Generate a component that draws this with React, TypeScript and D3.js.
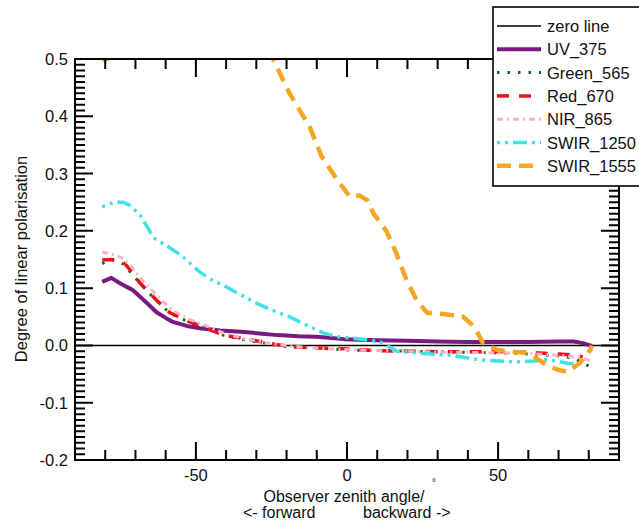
import React from 'react';
import * as d3 from 'd3';

// observer zenith angle (deg), degree of linear polarisation
const uv375: [number, number][] = [
  [-81, 0.111], [-78, 0.118], [-75, 0.108], [-71, 0.097], [-67, 0.078], [-63, 0.058],
  [-60, 0.048], [-57.6, 0.041], [-53, 0.034], [-48.7, 0.03], [-42, 0.026], [-35, 0.024],
  [-29, 0.021], [-23, 0.018], [-16, 0.016], [-10, 0.015], [-1, 0.011], [10, 0.009],
  [20, 0.008], [30, 0.007], [40, 0.006], [50, 0.006], [60, 0.006], [70, 0.007],
  [75, 0.007], [78, 0.004], [80.5, 0.0], [81, -0.002],
];
const green565: [number, number][] = [
  [-81, 0.143], [-78, 0.15], [-74, 0.142], [-71, 0.124], [-68, 0.105], [-63, 0.078],
  [-58.6, 0.056], [-52, 0.04], [-46, 0.029], [-41, 0.018], [-36, 0.012], [-32, 0.008],
  [-27, 0.004], [-23, 0.0], [-18, -0.003], [-13, -0.004], [-6, -0.006], [0, -0.008],
  [10, -0.009], [20, -0.01], [30, -0.011], [40, -0.012], [50, -0.013], [60, -0.015],
  [70, -0.018], [75, -0.022], [80, -0.036],
];
const red670: [number, number][] = [
  [-81, 0.149], [-78, 0.15], [-74, 0.146], [-71, 0.127], [-68.5, 0.109], [-63, 0.079],
  [-58.6, 0.057], [-52, 0.041], [-46.4, 0.03], [-41, 0.018], [-32, 0.01], [-23, 0.001],
  [-13, -0.004], [-1, -0.006], [10, -0.009], [20, -0.01], [30, -0.011], [40, -0.011],
  [50, -0.011], [60, -0.012], [70, -0.015], [75, -0.017], [78, -0.02],
];
const nir865: [number, number][] = [
  [-81, 0.163], [-78, 0.16], [-74, 0.152], [-71, 0.135], [-68, 0.115], [-63, 0.088],
  [-58, 0.062], [-52, 0.045], [-46, 0.033], [-41, 0.022], [-35, 0.013], [-28, 0.006],
  [-22, 0.001], [-13, -0.004], [-1, -0.007], [10, -0.009], [20, -0.01], [30, -0.012],
  [40, -0.012], [50, -0.013], [60, -0.014], [70, -0.017], [78, -0.022], [81, -0.028],
];
const swir1250: [number, number][] = [
  [-81, 0.242], [-77, 0.25], [-74, 0.25], [-72, 0.245], [-68.5, 0.228], [-64, 0.188],
  [-60, 0.175], [-55, 0.158], [-52, 0.144], [-48.7, 0.128], [-44, 0.112], [-41, 0.105],
  [-35, 0.088], [-30, 0.074], [-25, 0.062], [-19, 0.05], [-14, 0.037], [-8, 0.022],
  [-3, 0.015], [1, 0.013], [6, 0.01], [11, 0.006], [16.5, -0.01], [25, -0.014],
  [34, -0.017], [40, -0.022], [44, -0.025], [50, -0.027], [56, -0.029], [62, -0.027],
  [66, -0.025], [70, -0.028], [73, -0.031], [75, -0.032],
];
const swir1555: [number, number][] = [
  [-81, 0.52], [-80, 0.49], [-78.5, 0.51], [-76, 0.56], [-65, 0.68], [-45, 0.72],
  [-30, 0.58], [-24.5, 0.5], [-19, 0.44], [-12.3, 0.381], [-8.4, 0.33], [-3.4, 0.29],
  [1, 0.259], [4, 0.262], [6.6, 0.254], [8.7, 0.231], [13, 0.2], [16.3, 0.161],
  [19.7, 0.114], [23, 0.079], [26.5, 0.057], [32, 0.055], [38.4, 0.05], [41, 0.038],
  [43, 0.024], [45, 0.004], [49.7, -0.008], [55, -0.011], [59.6, -0.013], [62, -0.02],
  [66, -0.034], [70, -0.043], [73, -0.046], [77, -0.031], [80.5, -0.008], [81, 0.0],
];

const seriesNames = ['UV_375', 'Green_565', 'Red_670', 'NIR_865', 'SWIR_1250', 'SWIR_1555'];
const xMajorTicks = [-50, 0, 50];
const xMinorTicks = [-80, -70, -60, -40, -30, -20, -10, 10, 20, 30, 40, 60, 70, 80];
const yMajorTicks = [-0.2, -0.1, 0.0, 0.1, 0.2, 0.3, 0.4, 0.5];

const FONT = "'Liberation Sans', Arial, Helvetica, sans-serif";

const left = 75, right = 619, top = 59, bottom = 460;
const x = d3.scaleLinear().domain([-90, 90]).range([left, right]);
const y = d3.scaleLinear().domain([-0.2, 0.5]).range([bottom, top]);
const yMinorTicks = y.ticks(70);

const series = [
  { data: uv375, color: '#7a197f', width: 4, dash: undefined },
  { data: green565, color: '#14691e', width: 3, dash: '2.5,8' },
  { data: red670, color: '#e8121c', width: 3.5, dash: '12,10' },
  { data: nir865, color: '#ffb3c4', width: 3, dash: '6,4,2,4' },
  { data: swir1250, color: '#3ee3e6', width: 3.5, dash: '3,5,3,5,14,5' },
  { data: swir1555, color: '#f5a623', width: 4.5, dash: '14,8' },
];

const line = d3.line<[number, number]>().x(d => x(d[0])).y(d => y(d[1]));

const txt = { fontFamily: FONT, fontSize: 16.5, fill: '#111' };

// tick marks, pointing inward, as paths built from the scales
const xTickPath = (vals: number[], len: number) =>
  vals.map(v => `M${x(v)},${bottom}v${-len}M${x(v)},${top}v${len}`).join('');
const yTickPath = (vals: number[], len: number) =>
  vals.map(v => `M${left},${y(v)}h${len}M${right},${y(v)}h${-len}`).join('');

const App = () => {
  const legendRows = [
    { name: 'zero line', color: '#000', width: 1.5, dash: undefined as string | undefined },
    ...series.map((s, i) => ({ name: seriesNames[i], color: s.color, width: s.width, dash: s.dash })),
  ];

  return (
    <svg width={639} height={523} style={{ position: 'absolute', left: 0, top: 0, background: '#fff' }}>
      <defs>
        <clipPath id="plotclip">
          <rect x={left} y={top} width={right - left} height={bottom - top} />
        </clipPath>
      </defs>

      <g clipPath="url(#plotclip)">
        <line x1={x(-90)} x2={x(90)} y1={y(0)} y2={y(0)} stroke="#000" strokeWidth={1.5} />
        {series.map((s, i) => (
          <path key={i} d={line(s.data) ?? ''} fill="none" stroke={s.color}
            strokeWidth={s.width} strokeDasharray={s.dash} strokeLinejoin="round" />
        ))}
      </g>

      <path d={xTickPath(xMinorTicks, 10) + xTickPath(xMajorTicks, 18)}
        fill="none" stroke="#000" strokeWidth={2} />
      <path d={yTickPath(yMinorTicks, 10) + yTickPath(yMajorTicks, 18)}
        fill="none" stroke="#000" strokeWidth={2} />

      <rect x={left} y={top} width={right - left} height={bottom - top} fill="none" stroke="#000" strokeWidth={2} />

      {yMajorTicks.map(v => (
        <text key={'yl' + v} x={68} y={y(v) + 6} textAnchor="end" {...txt}>{v.toFixed(1)}</text>
      ))}
      {xMajorTicks.map(v => (
        <text key={'xl' + v} x={x(v)} y={481} textAnchor="middle" {...txt}>{String(v)}</text>
      ))}

      <text transform="translate(27,259) rotate(-90)" textAnchor="middle" {...txt}>
        Degree of linear polarisation
      </text>
      <text x={344} y={502} textAnchor="middle" {...txt} fontSize={16}>Observer zenith angle/</text>
      <text x={432} y={486} {...txt} fontSize={10}>°</text>
      <text x={243} y={518} {...txt} fontSize={16}>{'<- forward'}</text>
      <text x={363} y={518} {...txt} fontSize={16}>{'backward ->'}</text>

      <g>
        <rect x={493} y={7} width={160} height={179} fill="#fff" stroke="#000" strokeWidth={1.6} />
        {legendRows.map((e, i) => {
          const ly = 26 + i * 23.3;
          return (
            <g key={e.name}>
              <line x1={497} x2={541} y1={ly} y2={ly} stroke={e.color}
                strokeWidth={e.width} strokeDasharray={e.dash} />
              <text x={547} y={ly + 6} {...txt}>{e.name}</text>
            </g>
          );
        })}
      </g>
    </svg>
  );
};

export default App;
